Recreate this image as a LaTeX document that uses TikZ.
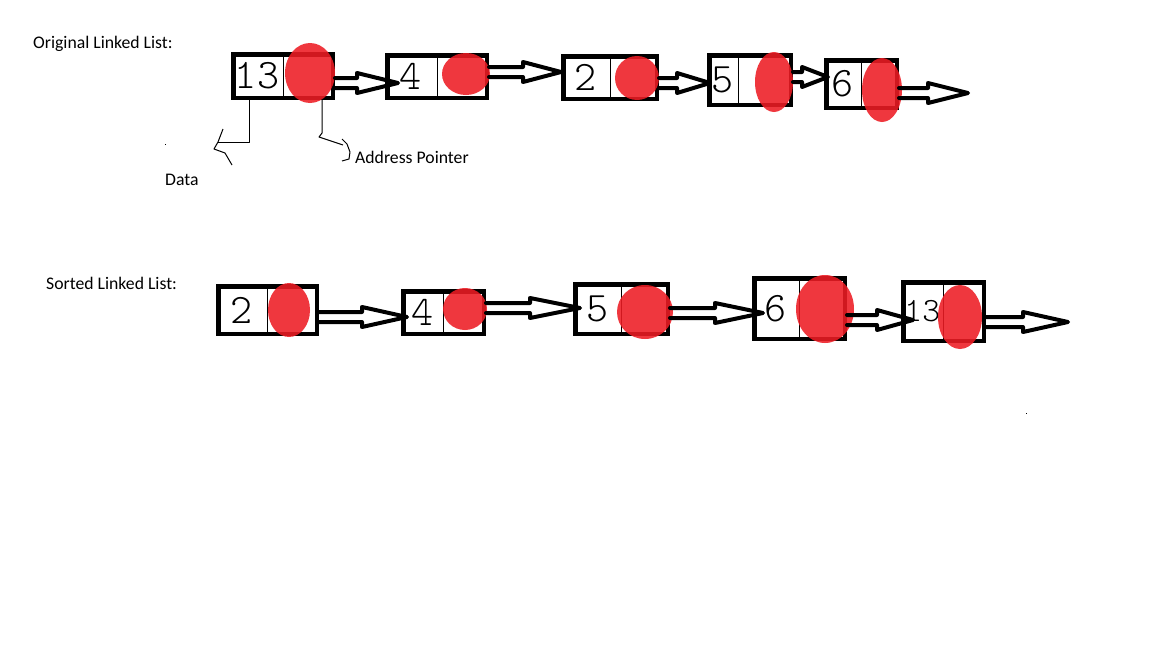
\documentclass[tikz,border=0pt]{standalone}
\usepackage{fontspec}
\setmainfont{Carlito}
\newfontfamily\handdigits{lmmonolt10-regular.otf}
\usetikzlibrary{calc}
\definecolor{paintRed}{RGB}{237,28,36}
\tikzset{
    base/.style={font=\fontsize{17.7}{20}\selectfont, inner sep=0pt},
    caption/.style={base, anchor=base west},
    cell/.style={draw=black, line width=4.5pt, inner sep=0pt},
    digit/.style={font=\handdigits\fontsize{42}{42}\selectfont, inner sep=0pt},
    divider/.style={line width=1pt},
    blob/.style={fill=paintRed, opacity=0.88},
    callout/.style={line width=1pt, line join=round},
    linkarrow/.style={line width=4pt, line join=round, line cap=round,
        to path={($(\tikztostart)+(0,5)$) -- ($(\tikztotarget)+(-#1,5)$) -- ($(\tikztotarget)+(-#1,10)$)
                 -- (\tikztotarget) -- ($(\tikztotarget)+(-#1,-10)$) -- ($(\tikztotarget)+(-#1,-5)$)
                 -- ($(\tikztostart)+(0,-5)$)}},
    linkarrow/.default=42
}

\begin{document}
\begin{tikzpicture}[x=1pt, y=-1pt]
  \fill[white] (0,0) rectangle (1152,648);
  \useasboundingbox (0,0) rectangle (1152,648);

  % Titles
  \node[caption] (orig) at (33,48) {Original Linked List:};
  \node[caption] (sorted) at (46,289) {Sorted Linked List:};

  % Original list
  \node[cell, minimum width=99.5pt, minimum height=43.5pt] (t1) at (283,76) {};
  \node[cell, minimum width=99.5pt, minimum height=42.5pt] (t2) at (437,76.5) {};
  \node[cell, minimum width=93.5pt, minimum height=42.5pt] (t3) at (610,77.5) {};
  \node[cell, minimum width=81.5pt, minimum height=49.5pt] (t4) at (750,80) {};
  \node[cell, minimum width=70.5pt, minimum height=47.5pt] (t5) at (861.5,84) {};

  % Sorted list
  \node[cell, minimum width=98.5pt, minimum height=47.5pt] (s1) at (267.5,310) {};
  \node[cell, minimum width=80.5pt, minimum height=42.5pt] (s2) at (443.5,312.5) {};
  \node[cell, minimum width=92.5pt, minimum height=49.5pt] (s3) at (621.5,309) {};
  \node[cell, minimum width=90.5pt, minimum height=60.5pt] (s4) at (799.5,308.5) {};
  \node[cell, minimum width=80.5pt, minimum height=58.5pt] (s5) at (943.5,311.5) {};

  % Data fields
  \foreach \n/\d in {t1/13,t2/4,t3/2,t5/6,s1/2,s2/4,s3/5,s4/6} {
    \draw[divider] (\n.north) -- (\n.south);
    \node[digit] (d\n) at ($(\n.west)!0.5!(\n.center)$) {\d};
  }
  \draw[divider] ([xshift=-12]t4.north) -- ([xshift=-12]t4.south);
  \node[digit] (dt4) at ($(t4.west)!0.36!(t4.center)$) {5};
  \draw[divider] (s5.north) -- (s5.south);
  \node[digit, font=\handdigits\fontsize{34}{34}\selectfont] (ds5) at ($(s5.west)!0.5!(s5.center)$) {13};

  % Callouts
  \coordinate (dataknee) at (218,142);
  \coordinate (addrknee) at (343,145);
  \draw[callout] ([xshift=-34]t1.south) |- (dataknee);
  \draw[callout] (223,129) -- (dataknee) -- (214,149) -- (225,153) -- (232,165);
  \draw[callout] ([xshift=39]t1.south) -- ++(0,33) -- ++(-3,4) -- (addrknee);
  \draw[callout] (342,139) -- (347,144) -- (350,152) -- (349,159) -- (342,161);
  \node[caption] (data) at (165,185) {Data};
  \node[caption] (addr) at (355,163) {Address Pointer};
  \fill (164.5,143.5) rectangle ++(1.5,1.5);
  \fill (1025.5,412.5) rectangle ++(1.5,1.5);

  % Address pointers
  \fill[blob] (310,73) ellipse [x radius=25, y radius=30];
  \fill[blob] (466,74) ellipse [x radius=24, y radius=21];
  \fill[blob] (637,78) ellipse [x radius=22, y radius=22];
  \fill[blob] (774,82) ellipse [x radius=19, y radius=30];
  \fill[blob] (882,90) ellipse [x radius=20, y radius=32];
  \fill[blob] (289,310) ellipse [x radius=21, y radius=27];
  \fill[blob] (465,309) ellipse [x radius=22, y radius=21];
  \fill[blob] (645,312) ellipse [x radius=28, y radius=27];
  \fill[blob] (825,309) ellipse [x radius=29, y radius=34];
  \fill[blob] (960,317) ellipse [x radius=22, y radius=32];

  % Links
  \coordinate (tend) at (968,93);
  \coordinate (send) at (1068,322);
  \draw[linkarrow=41] ([yshift=-7]t1.east) to ([xshift=13,yshift=-6.5]t2.west);
  \draw[linkarrow=38] ([yshift=4.5]t2.east) to ([yshift=5.5]t3.west);
  \draw[linkarrow=33] ([yshift=-5.5]t3.east) to ([xshift=3,yshift=-3]t4.west);
  \draw[linkarrow=26] ([yshift=3]t4.east) to ([xshift=4,yshift=7]t5.west);
  \draw[linkarrow=40] ([yshift=-9]t5.east) to (tend);
  \draw[linkarrow=45] ([yshift=-7]s1.east) to ([xshift=6,yshift=-4.5]s2.west);
  \draw[linkarrow=50] ([yshift=4.5]s2.east) to ([xshift=7,yshift=1]s3.west);
  \draw[linkarrow=48] ([yshift=-4]s3.east) to ([xshift=11,yshift=-4.5]s4.west);
  \draw[linkarrow=36] ([yshift=-11.5]s4.east) to ([xshift=12,yshift=-8.5]s5.west);
  \draw[linkarrow=45] ([yshift=-10.5]s5.east) to (send);
\end{tikzpicture}
\end{document}
